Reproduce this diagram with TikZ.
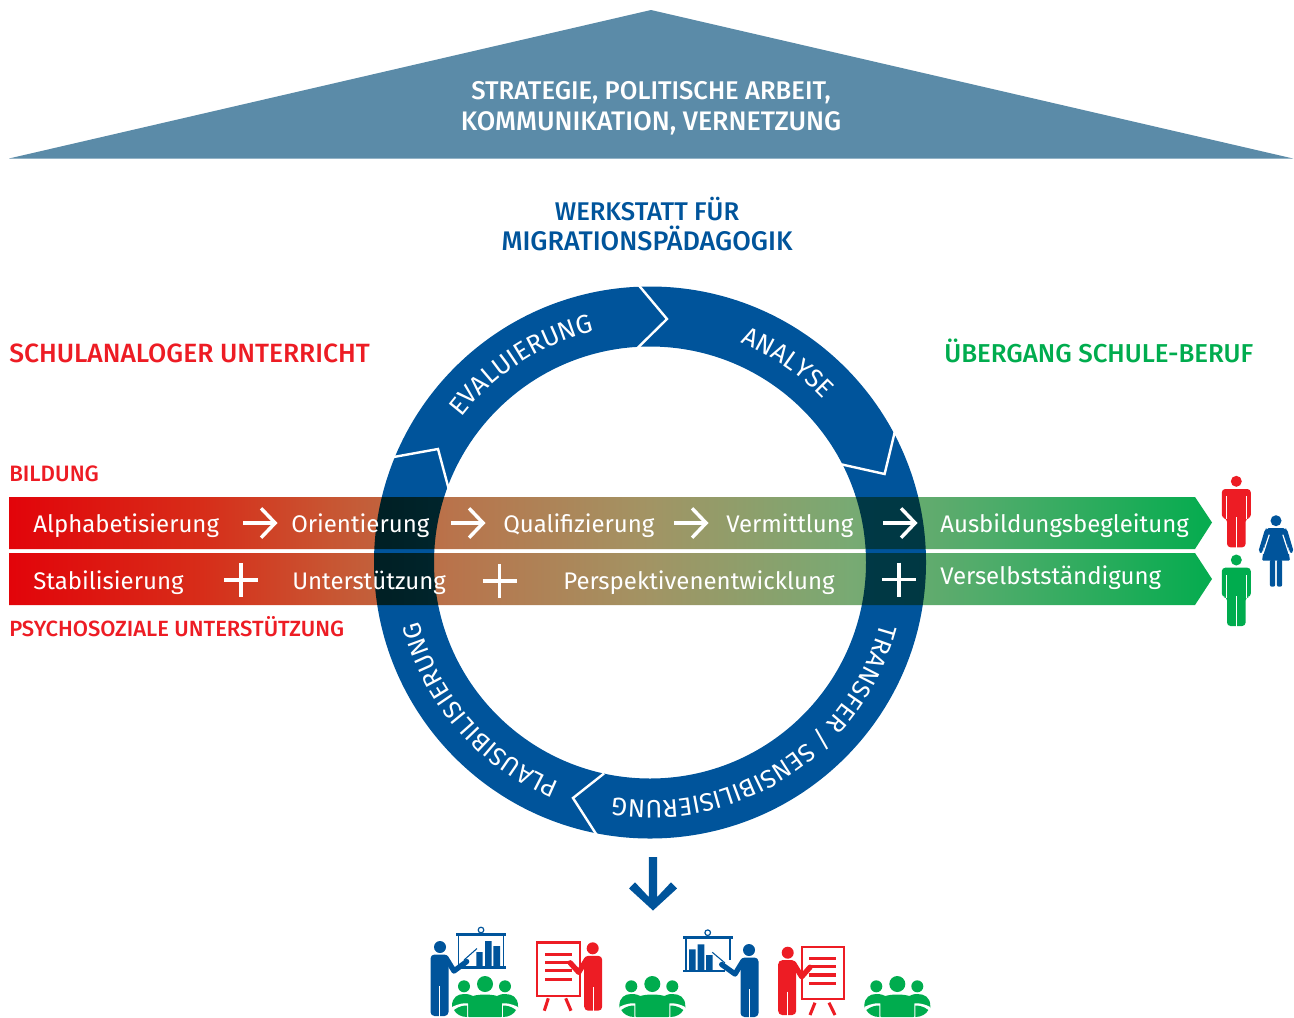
\documentclass[tikz,border=0pt]{standalone}
\usepackage{fontspec}
\setmainfont{Fira Sans}
\newfontfamily\medfont{Fira Sans Medium}
\usetikzlibrary{arrows.meta,decorations.text}
\definecolor{ringblue}{RGB}{0,84,155}
\definecolor{roofblue}{RGB}{91,139,168}
\definecolor{labred}{RGB}{237,28,36}
\definecolor{labgreen}{RGB}{0,172,78}
\definecolor{ca}{RGB}{226,4,10}
\definecolor{cb}{RGB}{215,45,25}
\definecolor{cc}{RGB}{200,85,50}
\definecolor{cd}{RGB}{185,115,75}
\definecolor{ce}{RGB}{162,148,100}
\definecolor{cf}{RGB}{120,170,115}
\definecolor{cg}{RGB}{75,172,105}
\definecolor{ch}{RGB}{8,172,80}
\pgfdeclarehorizontalshading{bandgrad}{100bp}{
 color(0bp)=(ca); color(25bp)=(ca); color(33bp)=(cb); color(38.3bp)=(cc); color(43.3bp)=(cd);
 color(51.6bp)=(ce); color(60bp)=(cf); color(66.2bp)=(cg); color(74.5bp)=(ch); color(100bp)=(ch)}
\tikzset{
 x=.75pt,y=-.75pt,
 hd/.style={font=\medfont\fontsize{#1pt}{22pt}\selectfont,inner sep=0pt,anchor=base},
 bt/.style={font=\fontsize{18pt}{22pt}\selectfont,text=white,inner sep=0pt,anchor=base west},
 small/.style={font=\medfont\fontsize{#1pt}{18pt}\selectfont,inner sep=0pt,anchor=base west},
 flow/.style={white,line width=2.6pt,-{Straight Barb[length=10.5pt,width=22pt,line width=2.6pt]}},
 plusbar/.style={white,line width=2.7pt},
 seam/.style={white,line width=1.8pt},
 ringtext/.style 2 args={decorate,decoration={text along path,text align=center,
   text={|\fontsize{#1pt}{22pt}\selectfont\color{white}|#2}}},
 pics/man/.style={code={
   \fill[#1] (0,0) circle[radius=5.5];
   \fill[#1,rounded corners=2.6pt] (-14.5,37) -- (-14.5,7.7) -- (14.5,7.7) -- (14.5,37) -- (9.3,37) -- (9.3,66) -- (-9.3,66) -- (-9.3,37) -- cycle;
   \draw[white,line width=.9pt] (-9.8,15) -- (-9.8,38) (9.8,15) -- (9.8,38) (0,36) -- (0,67);
 }},
 pics/woman/.style={code={
   \fill[#1] (0,0) circle[radius=5.5];
   \fill[#1,rounded corners=1pt] (-9,7.5) -- (9,7.5) -- (14,40) -- (-14,40) -- cycle;
   \fill[#1,rounded corners=1.5pt] (-9,7.5) -- (-11,8.5) -- (-17.7,31) -- (-14.5,33) -- (-8,14) -- cycle;
   \fill[#1,rounded corners=1.5pt] (9,7.5) -- (11,8.5) -- (17.7,31) -- (14.5,33) -- (8,14) -- cycle;
   \draw[white,line width=.9pt] (-6.8,14) -- (-13,33) (6.8,14) -- (13,33);
   \fill[#1,rounded corners=1.5pt] (-6.2,39) rectangle (-.8,66);
   \fill[#1,rounded corners=1.5pt] (.8,39) rectangle (6.2,66);
 }},
 pics/group/.style={code={
   \fill[labgreen] (0,0) circle[radius=8] (-21,2.3) circle[radius=6] (20,2.3) circle[radius=6];
   \fill[labgreen] (-33,22) .. controls (-33,13) and (-27,10) .. (-21,10) .. controls (-16,10) and (-14,11) .. (-12,12)
     .. controls (-6,10) and (6,10) .. (12,12) .. controls (14,11) and (16,10) .. (20,10)
     .. controls (27,10) and (33,13) .. (33,22) -- (33,24) -- (16,33) -- (-16,33) -- (-33,24) -- cycle;
   \fill[white] (-33,23) .. controls (-25,19) and (-20,19) .. (-17,19.5) -- (-17,34) -- (-33,34) -- cycle;
   \fill[white] (33,23) .. controls (25,19) and (20,19) .. (17,19.5) -- (17,34) -- (33,34) -- cycle;
   \fill[labgreen] (-31,26) .. controls (-26,22) and (-21,21.5) .. (-18,21.5) -- (-18,33) .. controls (-24,33) and (-29,30) .. (-31,26) -- cycle;
   \fill[labgreen] (31,26) .. controls (26,22) and (21,21.5) .. (18,21.5) -- (18,33) .. controls (24,33) and (29,30) .. (31,26) -- cycle;
 }},
 pics/presenter/.style n args={3}{code={
   \fill[#1] (0,0) circle[radius=6];
   \fill[#1,rounded corners=3pt] (-9.5,#2) -- (-9.5,7.5) -- (8.5,7.5) -- (8.5,#2) -- cycle;
   \draw[white,line width=.9pt] (-.5,39) -- (-.5,#2+1);
   \draw[#1,line width=4pt,line cap=round,line join=round] (6,11) -- (14,24) -- (#3,14.5);
 }},
}
\begin{document}
\begin{tikzpicture}
\useasboundingbox (0,0) rectangle (1294,1017);
% roof
\fill[roofblue] (651,10) -- (1293,158.5) -- (9,158.5) -- cycle;
\node[hd=19.2,text=white] (roofa) at (651,99) {STRATEGIE, POLITISCHE ARBEIT,};
\node[hd=20.1,text=white] (roofb) at (651,130) {KOMMUNIKATION, VERNETZUNG};
% headings
\node[hd=19.2,text=ringblue] (wa) at (647,220) {WERKSTATT FÜR};
\node[hd=20.2,text=ringblue] (wb) at (647,250) {MIGRATIONSPÄDAGOGIK};
\node[hd=19.8,text=labred,anchor=base west] (sa) at (9,362) {SCHULANALOGER UNTERRICHT};
\node[hd=19.4,text=labgreen,anchor=base west] (ub) at (944,362) {ÜBERGANG SCHULE-BERUF};
\node[small=16.7,text=labred] (bi) at (9,481) {BILDUNG};
\node[small=16.5,text=labred] (ps) at (9,636) {PSYCHOSOZIALE UNTERSTÜTZUNG};
% bands
\shade[shading=bandgrad] (9,497) -- (1195,497) -- (1212,522.5) -- (1195,549) -- (9,549) -- cycle
  (9,553) -- (1195,553) -- (1212,579) -- (1195,605) -- (9,605) -- cycle;
% ring
\fill[ringblue,even odd rule,blend mode=multiply] (650,562.5) circle[radius=276] circle[radius=216];
\draw[seam] (638.5,285) -- (667,319) -- (636.5,349);
\draw[seam] (895,431) -- (884.6,474) -- (842,464.5);
\draw[seam] (392,457.3) -- (438,449) -- (449,490);
\draw[seam] (604,773.5) -- (573,798) -- (598,837);
\begin{scope}[shift={(650,562.5)},y=.75pt]
 \path[ringtext={19.5}{EVALUIERUNG}] (153:238) arc (153:93:238);
 \path[ringtext={19.3}{ANALYSE}] (78:238) arc (78:33:238);
 \path[ringtext={18.9}{TRANSFER / SENSIBILISIERUNG}] (-4:238) arc (-4:-110:238);
 \path[ringtext={18.9}{PLAUSIBILISIERUNG}] (-104:238) arc (-104:-174:238);
\end{scope}
% band texts
\node[bt] (t1) at (33,532) {Alphabetisierung};
\node[bt] (t2) at (291,532) {Orientierung};
\node[bt] (t3) at (503,532) {Qualifizierung};
\node[bt] (t4) at (726,532) {Vermittlung};
\node[bt] (t5) at (940,532) {Ausbildungsbegleitung};
\node[bt] (b1) at (33,589) {Stabilisierung};
\node[bt] (b2) at (292,589) {Unterstützung};
\node[bt] (b3) at (563,589) {Perspektivenentwicklung};
\node[bt] (b4) at (940,584) {Verselbstständigung};
% flow arrows
\foreach \n/\xa in {1/243,2/451,3/674,4/883}{
 \coordinate (as\n) at (\xa,523);
 \coordinate (ae\n) at (\xa+34.5,523);
 \draw[flow] (as\n) -- (ae\n);
}
\foreach \cx/\cy in {241/580,499.5/581,899/579.5}{
 \draw[plusbar] (\cx-17,\cy) -- (\cx+17,\cy) (\cx,\cy-17) -- (\cx,\cy+17);
}
% figures
\pic at (1236.3,481.3) {man=labred};
\pic at (1236.3,560) {man=labgreen};
\pic at (1276,520.7) {woman=ringblue};
% down arrow
\fill[ringblue] (648.8,857) -- (657.2,857) -- (657.2,897) -- (671,882.3) -- (677,888.5) -- (653,910.5) -- (629,888.5) -- (635,882.3) -- (648.8,897) -- cycle;
% groups
\pic at (485,984) {group};
\pic at (652.3,984) {group};
\pic at (897.3,984) {group};
% blue presenter left
\draw[ringblue,line width=2.2pt] (456,934.3) -- (505.7,934.3);
\draw[ringblue,line width=2.2pt] (456,967.7) -- (505.7,967.7);
\draw[ringblue,line width=1pt] (458.7,934.3) -- (458.7,967.7) (503.5,934.3) -- (503.5,967.7);
\draw[ringblue,line width=.9pt,fill=white] (481,930) circle[radius=2.8];
\fill[ringblue] (476.3,952) rectangle (482.7,967) (485,941) rectangle (491.7,967) (493.3,946) rectangle (500,967);
\draw[ringblue,line width=.8pt] (464,960) -- (477,948.5);
\pic at (440,947) {presenter={ringblue}{69}{26.7}};
% blue presenter right
\draw[ringblue,line width=2.2pt] (683.3,937.3) -- (732.7,937.3);
\draw[ringblue,line width=2.2pt] (683.3,971) -- (725,971);
\draw[ringblue,line width=1pt] (686,937.3) -- (686,971) (730,937.3) -- (730,960);
\draw[ringblue,line width=.9pt,fill=white] (707.7,932.7) circle[radius=2.8];
\fill[ringblue] (689,949.3) rectangle (695.7,971) (697.7,944.3) rectangle (704.3,971) (706,955) rectangle (712.7,971);
\draw[ringblue,line width=.8pt] (712.3,952.3) -- (725,963);
\pic[xscale=-1] at (749,950) {presenter={ringblue}{67}{27.3}};
% red board left
\draw[labred,line width=1.8pt,fill=white] (537,942.5) rectangle (579.7,995.8);
\draw[labred,line width=2.3pt] (545,954.3) -- (572,954.3) (545,962.3) -- (572,962.3) (545,970.3) -- (572,970.3) (545,979.3) -- (572,979.3);
\draw[labred,line width=2.3pt] (548.3,998.3) -- (544.3,1010.7) (565.7,998.3) -- (571,1010.7);
\pic[xscale=-1] at (592.7,948.3) {presenter={labred}{62.4}{22.5}};
% red board right
\draw[labred,line width=1.8pt,fill=white] (801.8,947) rectangle (843.7,999);
\draw[labred,line width=2.3pt] (809.3,958.3) -- (836,958.3) (809.3,966.7) -- (836,966.7) (809.3,975) -- (836,975) (809.3,983.3) -- (836,983.3);
\draw[labred,line width=2.3pt] (815,1002.7) -- (810,1015) (829,1002.7) -- (835,1015);
\pic at (787.7,952.7) {presenter={labred}{62.3}{22.3}};
\end{tikzpicture}
\end{document}
